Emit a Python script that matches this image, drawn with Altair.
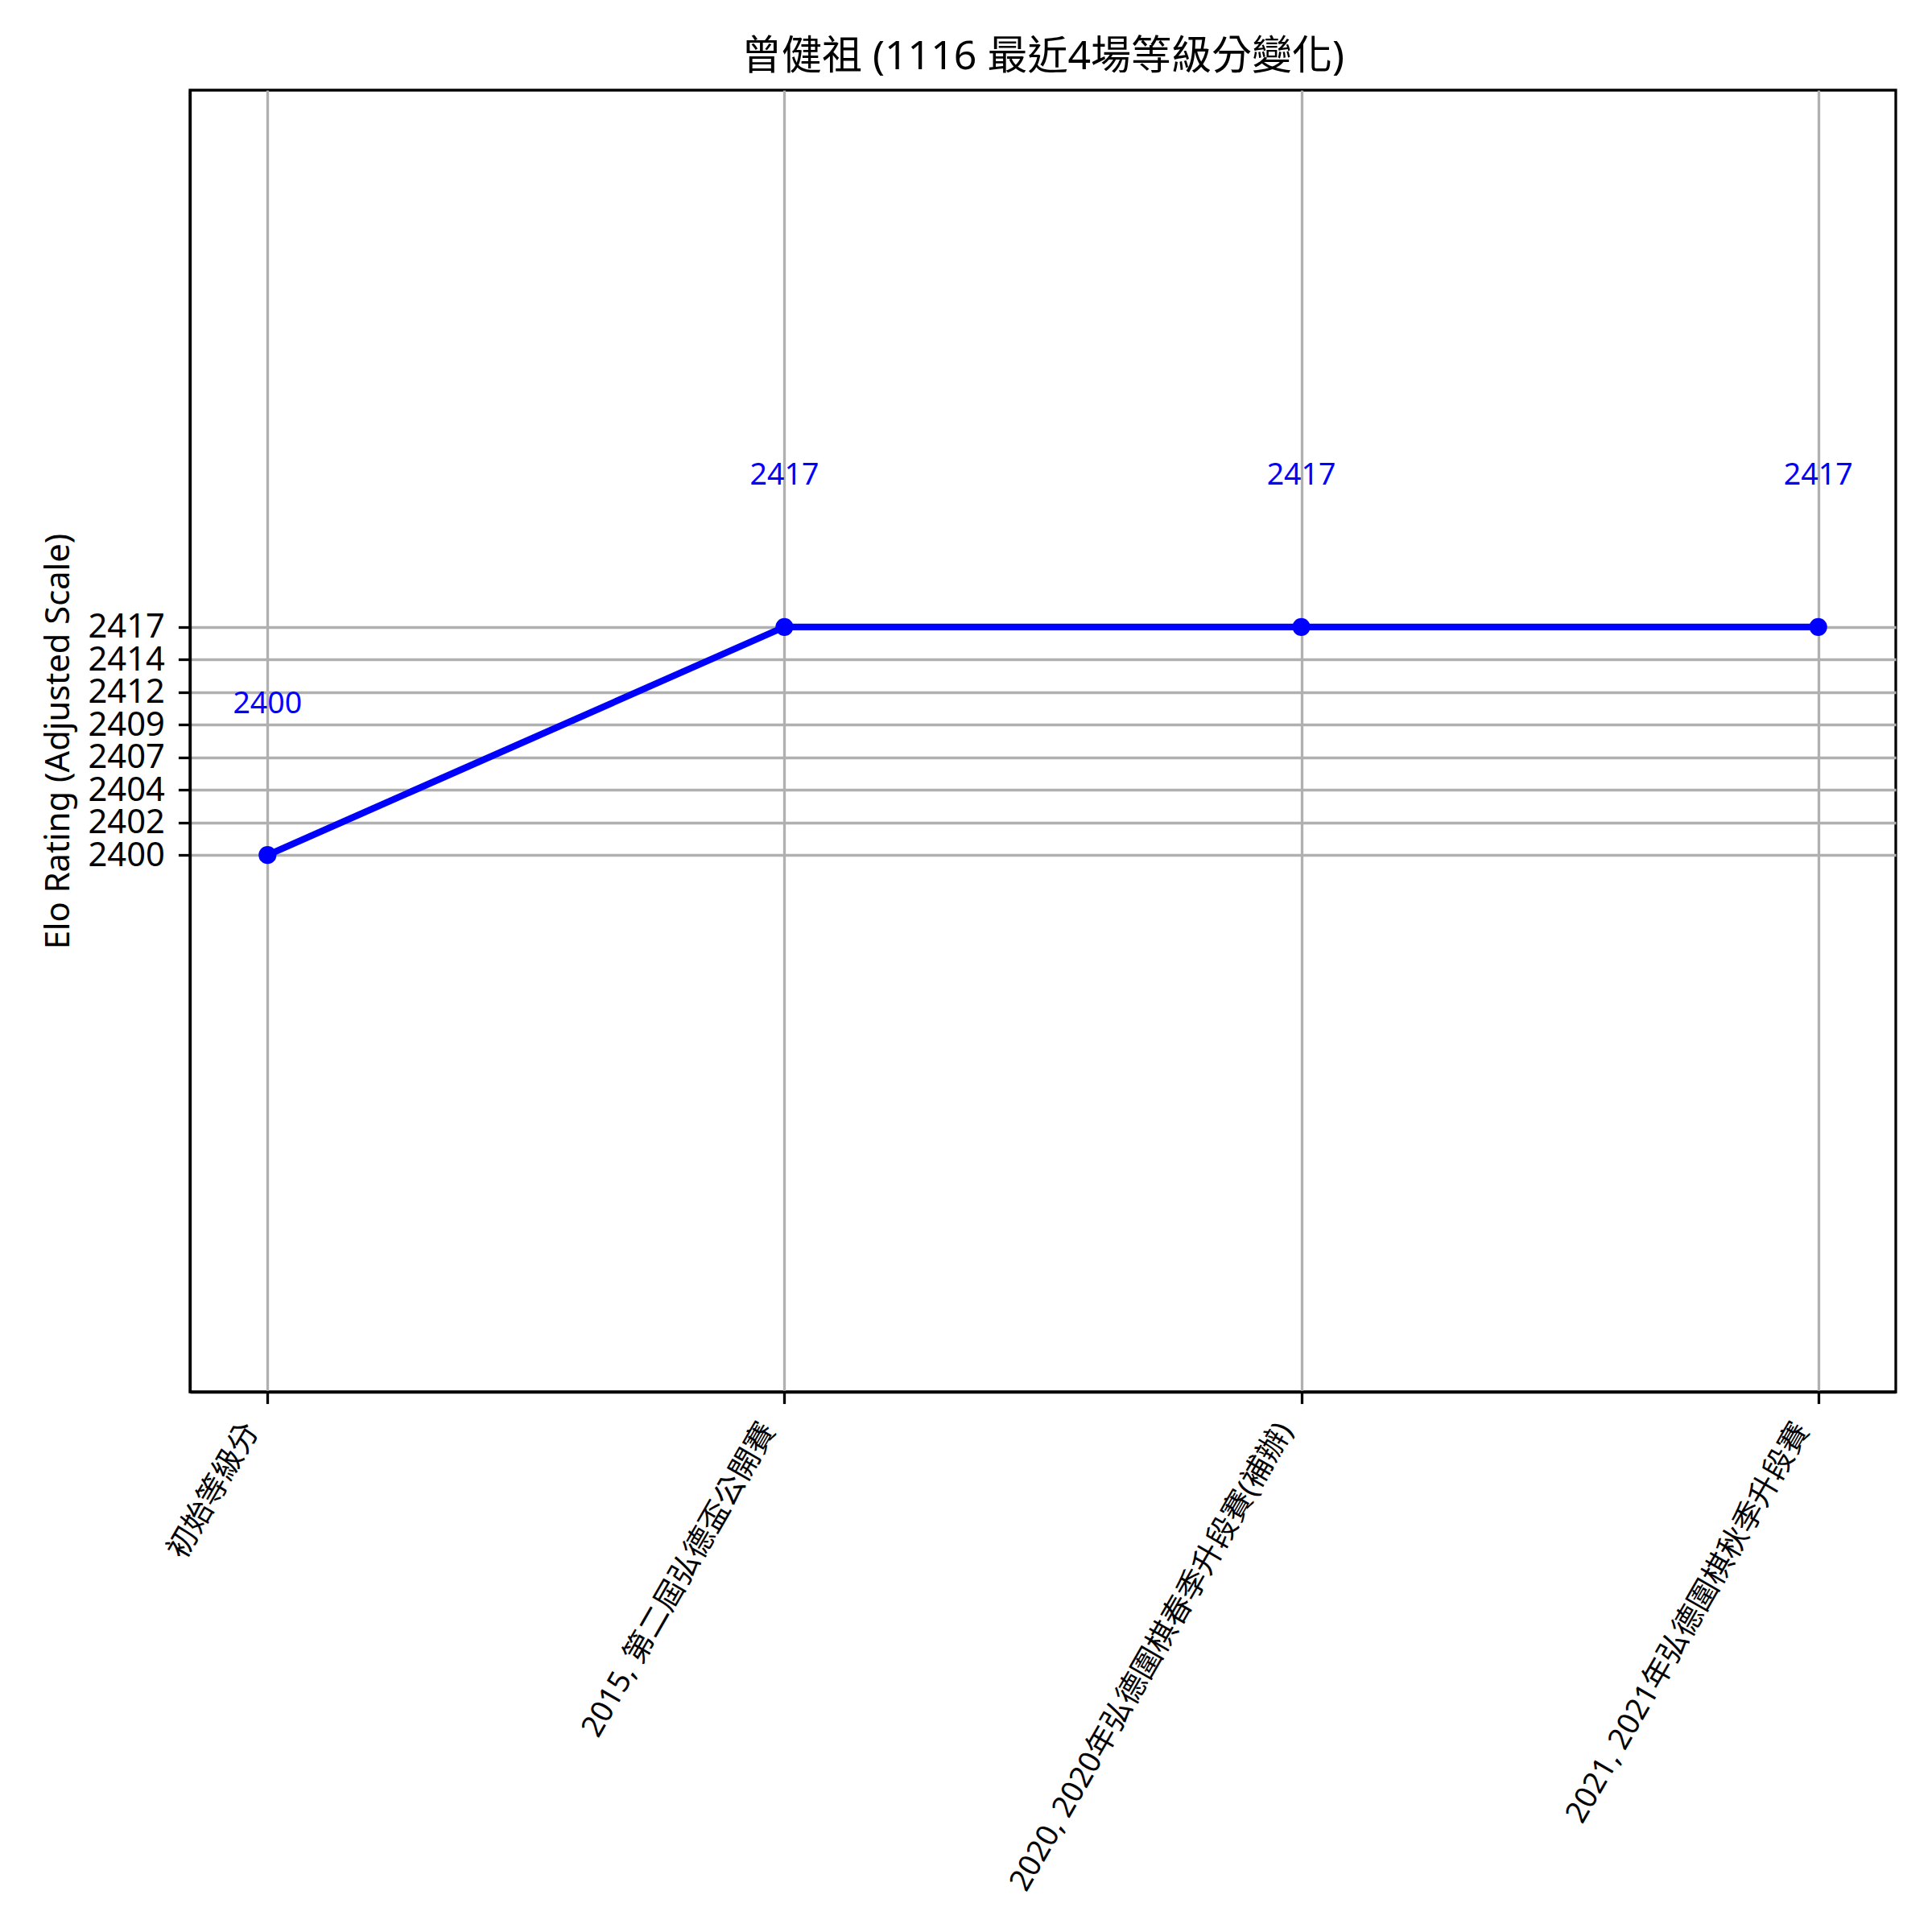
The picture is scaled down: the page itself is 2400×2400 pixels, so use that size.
import altair as alt
import pandas as pd

# ---- data ----
categories = [
    "初始等級分",
    "2015, 第二屆弘德盃公開賽",
    "2020, 2020年弘德圍棋春季升段賽(補辦)",
    "2021, 2021年弘德圍棋秋季升段賽",
]
ratings = [2400, 2417, 2417, 2417]
y_tick_values = [2400, 2402.43, 2404.86, 2407.29, 2409.71, 2412.14, 2414.57, 2417]
y_domain = [2360, 2457]
title_text = "曾健祖 (1116 最近4場等級分變化)"
y_title = "Elo Rating (Adjusted Scale)"

df = pd.DataFrame({"cat": categories, "rating": ratings,
                   "label": [str(r) for r in ratings]})

FONT = "Noto Sans, Noto Sans CJK TC, sans-serif"
BLUE = "#0000ff"
LW = 3.3

x_enc = alt.X(
    "cat:N",
    sort=categories,
    scale=alt.Scale(type="point", padding=0.15),
    axis=alt.Axis(
        title=None,
        labelAngle=300,
        labelAlign="right",
        labelBaseline="middle",
        labelFont=FONT,
        labelFontSize=37.5,
        labelColor="black",
        labelPadding=27,
        labelOffset=-20,
        labelLimit=2000,
        labelOverlap=False,
        tickSize=14.6,
        tickWidth=LW,
        tickColor="black",
        domainColor="black",
        domainWidth=LW,
        grid=True,
        gridColor="#b0b0b0",
        gridWidth=LW,
    ),
)

y_enc = alt.Y(
    "rating:Q",
    scale=alt.Scale(domain=y_domain, nice=False, zero=False),
    axis=alt.Axis(
        title=y_title,
        titleFont=FONT,
        titleFontSize=41.7,
        titleFontWeight="normal",
        titleColor="black",
        titleAngle=270,
        titleAlign="center",
        titleBaseline="alphabetic",
        titleX=-151,
        titleY=808.5,
        values=y_tick_values,
        labelExpr="floor(datum.value)",
        labelFont=FONT,
        labelFontSize=41.7,
        labelColor="black",
        labelPadding=17,
        labelOverlap=False,
        labelFlush=False,
        tickSize=14.6,
        tickWidth=LW,
        tickColor="black",
        domainColor="black",
        domainWidth=LW,
        grid=True,
        gridColor="#b0b0b0",
        gridWidth=LW,
    ),
)

base = alt.Chart(df).encode(x=x_enc, y=y_enc)

line = base.mark_line(color=BLUE, strokeWidth=8.3)
pts = base.mark_circle(color=BLUE, size=491, opacity=1)
txt = base.mark_text(
    color=BLUE, font=FONT, fontSize=37.5, dy=-176.6,
    align="center", baseline="alphabetic",
).encode(text="label:N")

chart = (
    alt.layer(line, pts, txt)
    .properties(
        width=2119,
        height=1617,
        autosize=alt.AutoSizeParams(type="none"),
        padding={"left": 228, "top": 104, "right": 29, "bottom": 655},
        title=alt.TitleParams(
            text=title_text,
            font=FONT,
            fontSize=50,
            fontWeight="normal",
            color="black",
            anchor="middle",
            frame="group",
            baseline="alphabetic",
            offset=24.5,
            dy=48,
        ),
    )
    .configure(background="white")
    .configure_view(stroke="black", strokeWidth=LW)
)

chart.save("out.html", embed_options={"renderer": "svg", "actions": False})
